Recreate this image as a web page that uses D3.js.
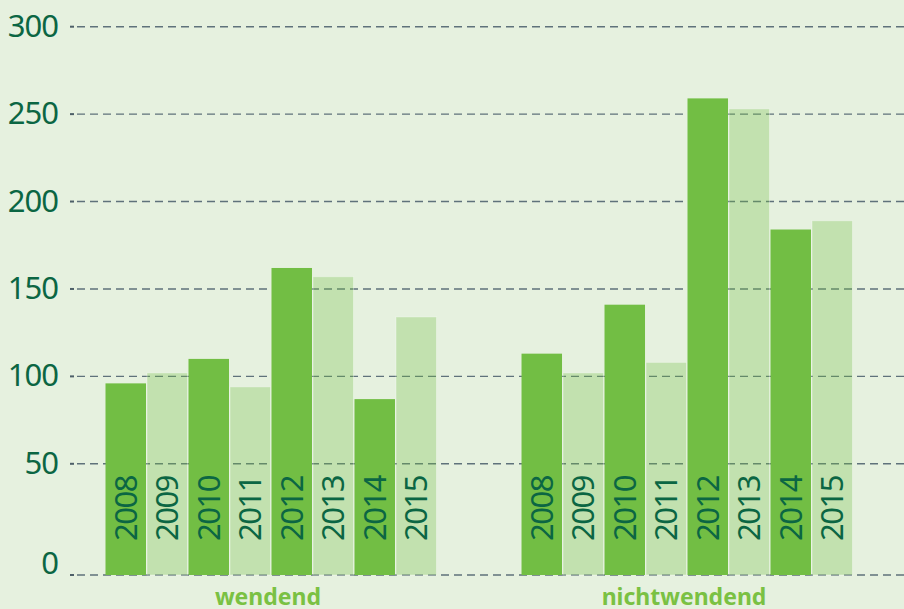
<!DOCTYPE html>
<html>
<head>
<meta charset="utf-8">
<script src="https://cdn.jsdelivr.net/npm/d3@7"></script>
<style>
  html, body { margin: 0; padding: 0; background: #e6f1df; }
  svg { display: block; font-family: "Noto Sans", sans-serif; }
</style>
</head>
<body>
<div id="chart"></div>
<script>
// data
const groups = ["wendend", "nichtwendend"];
const years = ["2008", "2009", "2010", "2011", "2012", "2013", "2014", "2015"];
const wendend = [96, 102, 110, 94, 162, 157, 87, 134];
const nichtwendend = [113, 102, 141, 108, 259, 253, 184, 189];
const yTicks = [0, 50, 100, 150, 200, 250, 300];

const width = 904, height = 609;
const dark = "#72be44";
const textGreen = "#0b6643";

const svg = d3.select("#chart").append("svg")
    .attr("width", width)
    .attr("height", height);

svg.append("rect")
    .attr("width", width).attr("height", height)
    .attr("fill", "#e6f1df");

// the baseline sits a bit below the true zero in the original
const yMin = -13.6;
const y = d3.scaleLinear()
    .domain([yMin, 300])
    .range([575, 26.7]);
const tickY = v => v === 0 ? y(yMin) : y(v);

const x0 = d3.scaleBand()
    .domain(groups)
    .range([105, 853])
    .paddingInner(0.202);
const x1 = d3.scaleBand()
    .domain(years)
    .range([0, x0.bandwidth()]);

// gridlines
const grid = svg.append("g");
grid.selectAll("line.dash")
    .data(yTicks)
    .join("line")
        .attr("class", "dash")
        .attr("x1", 77).attr("x2", width)
        .attr("y1", d => tickY(d)).attr("y2", d => tickY(d))
        .attr("stroke", "#5f727b")
        .attr("stroke-width", 1.4)
        .attr("stroke-dasharray", "8,5");
grid.selectAll("line.tick")
    .data(yTicks)
    .join("line")
        .attr("class", "tick")
        .attr("x1", 70).attr("x2", 74)
        .attr("y1", d => tickY(d)).attr("y2", d => tickY(d))
        .attr("stroke", "#4d5f68")
        .attr("stroke-width", 2);

svg.append("g").selectAll("text")
    .data(yTicks)
    .join("text")
        .attr("x", 58)
        .attr("y", d => d === 0 ? tickY(d) - 1 : tickY(d) + 10)
        .attr("text-anchor", "end")
        .attr("fill", textGreen)
        .attr("font-size", 31)
        .attr("letter-spacing", -1)
        .text(d => d);

// bars
const series = [wendend, nichtwendend];
const gBars = svg.append("g").selectAll("g")
    .data(groups)
    .join("g")
        .attr("transform", d => `translate(${x0(d)},0)`);

gBars.selectAll("rect")
    .data((g, gi) => years.map((yr, i) => ({ year: yr, value: series[gi][i], i })))
    .join("rect")
        .attr("x", d => x1(d.year) + 0.5)
        .attr("width", x1.bandwidth() - 1)
        .attr("y", d => y(d.value))
        .attr("height", d => y(yMin) - y(d.value))
        .attr("fill", dark)
        .attr("fill-opacity", d => d.i % 2 === 0 ? 1 : 0.31)
        .attr("stroke", "#ffffff")
        .attr("stroke-opacity", d => d.i % 2 === 0 ? 0 : 0.35)
        .attr("stroke-width", 1);

gBars.selectAll("text")
    .data(years)
    .join("text")
        .attr("transform", d => `translate(${x1(d) + x1.bandwidth() / 2 + 11},541) rotate(-90)`)
        .attr("fill", textGreen)
        .attr("font-size", 31)
        .attr("letter-spacing", -1.5)
        .text(d => d);

// group labels
svg.append("g").selectAll("text")
    .data(groups)
    .join("text")
        .attr("x", d => x0(d) + x0.bandwidth() / 2 - 3)
        .attr("y", 605)
        .attr("text-anchor", "middle")
        .attr("fill", "#7ac143")
        .attr("font-size", 23)
        .attr("font-weight", "bold")
        .text(d => d);
</script>
</body>
</html>
